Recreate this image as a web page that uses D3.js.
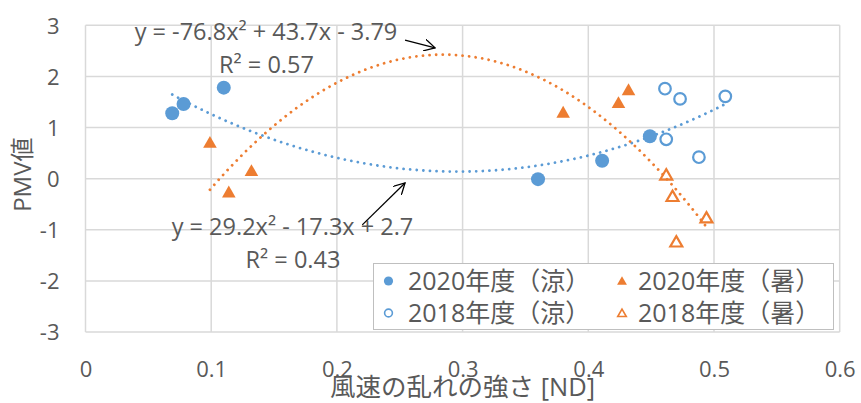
<!DOCTYPE html>
<html>
<head>
<meta charset="utf-8">
<script src="https://cdn.jsdelivr.net/npm/d3@7/dist/d3.min.js"></script>
<style>
  html, body { margin: 0; padding: 0; background: #fff; }
  svg { display: block; font-family: "Open Sans", "Noto Sans CJK JP", sans-serif; }
</style>
</head>
<body>
<svg id="chart" width="861" height="403"></svg>
<script>
// Wind turbulence intensity vs PMV, two seasons, two survey years
const cool2020X = [0.069, 0.078, 0.110, 0.360, 0.411, 0.449];
const cool2020Y = [1.28, 1.46, 1.78, -0.01, 0.35, 0.83];
const hot2020X  = [0.099, 0.114, 0.132, 0.380, 0.424, 0.432];
const hot2020Y  = [0.70, -0.27, 0.15, 1.29, 1.48, 1.73];
const cool2018X = [0.461, 0.473, 0.509, 0.462, 0.488];
const cool2018Y = [1.76, 1.56, 1.61, 0.77, 0.42];
const hot2018X  = [0.462, 0.467, 0.494, 0.470];
const hot2018Y  = [0.07, -0.35, -0.77, -1.24];

// quadratic trend coefficients [a, b, c] for y = a x^2 + b x + c
const coolFit = [29.2, -17.3, 2.7];
const hotFit  = [-76.8, 43.7, -3.79];
const coolR2 = "0.43";
const hotR2  = "0.57";

const xTicks = [0, 0.1, 0.2, 0.3, 0.4, 0.5, 0.6];
const yTicks = [-3, -2, -1, 0, 1, 2, 3];
const legendLabels = ["2020年度（涼）", "2020年度（暑）", "2018年度（涼）", "2018年度（暑）"];

const BLUE = "#5B9BD5", ORANGE = "#ED7D31", GRID = "#d9d9d9", TEXT = "#595959";

const W = 861, H = 403;
const m = { left: 85.5, right: 21.3, top: 25.3, bottom: 71 };
const svg = d3.select("#chart");

const x = d3.scaleLinear().domain([0, 0.6]).range([m.left, W - m.right]);
const y = d3.scaleLinear().domain([-3, 3]).range([H - m.bottom, m.top]);

// grid
const g = svg.append("g");
g.selectAll("line.h").data(yTicks).join("line")
  .attr("x1", x(0)).attr("x2", x(0.6))
  .attr("y1", d => y(d)).attr("y2", d => y(d))
  .attr("stroke", GRID).attr("stroke-width", 1.5);
g.selectAll("line.v").data(xTicks).join("line")
  .attr("y1", y(-3)).attr("y2", y(3))
  .attr("x1", d => x(d)).attr("x2", d => x(d))
  .attr("stroke", GRID).attr("stroke-width", 1.5);

// tick labels (axis lines hidden, gridlines act as frame)
const plain = d => String(d);
const xAxis = svg.append("g").attr("transform", `translate(0,${y(-3)})`)
  .call(d3.axisBottom(x).tickValues(xTicks).tickSize(0).tickPadding(0).tickFormat(plain));
xAxis.select(".domain").remove();
xAxis.selectAll("text").attr("dy", null).attr("y", 45)
  .attr("fill", TEXT).style("font-size", "22px").style("font-family", "'Open Sans'");

const yAxis = svg.append("g").attr("transform", `translate(${x(0)},0)`)
  .call(d3.axisLeft(y).tickValues(yTicks).tickSize(0).tickPadding(0).tickFormat(plain));
yAxis.select(".domain").remove();
yAxis.selectAll("text").attr("dy", "0.36em").attr("x", -26)
  .attr("fill", TEXT).style("font-size", "22px").style("font-family", "'Open Sans'");

// axis titles
svg.append("text").attr("x", (x(0) + x(0.6)) / 2).attr("y", 396)
  .attr("text-anchor", "middle").attr("fill", TEXT).style("font-size", "25.5px")
  .text("風速の乱れの強さ [ND]");
svg.append("text").attr("transform", `translate(31,${(y(3) + y(-3)) / 2 - 4}) rotate(-90)`)
  .attr("text-anchor", "middle").attr("fill", TEXT).style("font-size", "24px")
  .text("PMV値");

// trend curves
function curve(coef, xs) {
  const lo = d3.min(xs), hi = d3.max(xs);
  const pts = d3.range(0, 101).map(i => {
    const t = lo + (hi - lo) * i / 100;
    return [t, coef[0] * t * t + coef[1] * t + coef[2]];
  });
  return d3.line().x(d => x(d[0])).y(d => y(d[1]))(pts);
}
svg.append("path").attr("d", curve(coolFit, cool2020X.concat(cool2018X)))
  .attr("fill", "none").attr("stroke", BLUE).attr("stroke-width", 2.8)
  .attr("stroke-linecap", "round").attr("stroke-dasharray", "0.01 6.6");
svg.append("path").attr("d", curve(hotFit, hot2020X.concat(hot2018X)))
  .attr("fill", "none").attr("stroke", ORANGE).attr("stroke-width", 2.8)
  .attr("stroke-linecap", "round").attr("stroke-dasharray", "0.01 6.6");

// markers
const tri = d3.symbol().type(d3.symbolTriangle).size(80);
function pts(xs, ys) { return xs.map((v, i) => [v, ys[i]]); }

svg.append("g").selectAll("circle").data(pts(cool2020X, cool2020Y)).join("circle")
  .attr("cx", d => x(d[0])).attr("cy", d => y(d[1])).attr("r", 7).attr("fill", BLUE);
svg.append("g").selectAll("circle").data(pts(cool2018X, cool2018Y)).join("circle")
  .attr("cx", d => x(d[0])).attr("cy", d => y(d[1])).attr("r", 5.8)
  .attr("fill", "none").attr("stroke", BLUE).attr("stroke-width", 2.2);
svg.append("g").selectAll("path").data(pts(hot2020X, hot2020Y)).join("path")
  .attr("d", tri).attr("transform", d => `translate(${x(d[0])},${y(d[1]) + 1})`)
  .attr("fill", ORANGE);
svg.append("g").selectAll("path").data(pts(hot2018X, hot2018Y)).join("path")
  .attr("d", d3.symbol().type(d3.symbolTriangle).size(62)).attr("transform", d => `translate(${x(d[0])},${y(d[1]) + 1})`)
  .attr("fill", "none").attr("stroke", ORANGE).attr("stroke-width", 2.2);

// trend equations
function eq(coef) {
  const f = v => Math.abs(v).toString();
  const s = v => v < 0 ? " - " : " + ";
  return `y = ${coef[0] < 0 ? "-" : ""}${f(coef[0])}x²${s(coef[1])}${f(coef[1])}x${s(coef[2])}${f(coef[2])}`;
}
const eqStyle = sel => sel.attr("text-anchor", "middle").attr("fill", TEXT).style("font-size", "23.5px");
svg.append("text").attr("x", 266).attr("y", 40).call(eqStyle).text(eq(hotFit));
svg.append("text").attr("x", 266.5).attr("y", 72.5).call(eqStyle).text(`R² = ${hotR2}`);
svg.append("text").attr("x", 292.5).attr("y", 235).call(eqStyle).text(eq(coolFit));
svg.append("text").attr("x", 293).attr("y", 268).call(eqStyle).text(`R² = ${coolR2}`);

// pointer arrows from equations to curves
svg.append("defs").append("marker").attr("id", "arr")
  .attr("viewBox", "0 0 12 12").attr("refX", 11).attr("refY", 6)
  .attr("markerWidth", 12).attr("markerHeight", 12).attr("markerUnits", "userSpaceOnUse")
  .attr("orient", "auto")
  .append("path").attr("d", "M0,0 L11,6 L0,12").attr("fill", "none")
  .attr("stroke", "#000").attr("stroke-width", 1.3);
function arrow(x1, y1, x2, y2) {
  svg.append("line").attr("x1", x(x1)).attr("y1", y(y1)).attr("x2", x(x2)).attr("y2", y(y2))
    .attr("stroke", "#000").attr("stroke-width", 1.3).attr("marker-end", "url(#arr)");
}
arrow(0.2542, 2.71, 0.2781, 2.56);
arrow(0.2202, -0.905, 0.2542, -0.085);

// legend
const lg = svg.append("g");
lg.append("rect").attr("x", 373.5).attr("y", 263.5).attr("width", 460).attr("height", 66)
  .attr("fill", "#fff").attr("stroke", "#bfbfbf").attr("stroke-width", 1);
const lx = [388.5, 622], ly = [281, 313], tx = [408, 638];
lg.append("circle").attr("cx", lx[0]).attr("cy", ly[0]).attr("r", 4.6).attr("fill", BLUE);
lg.append("path").attr("d", d3.symbol().type(d3.symbolTriangle).size(42))
  .attr("transform", `translate(${lx[1]},${ly[0] + 1})`).attr("fill", ORANGE);
lg.append("circle").attr("cx", lx[0]).attr("cy", ly[1]).attr("r", 3.9)
  .attr("fill", "none").attr("stroke", BLUE).attr("stroke-width", 1.6);
lg.append("path").attr("d", d3.symbol().type(d3.symbolTriangle).size(32))
  .attr("transform", `translate(${lx[1]},${ly[1] + 1})`).attr("fill", "none")
  .attr("stroke", ORANGE).attr("stroke-width", 1.6);
legendLabels.forEach((t, i) => {
  lg.append("text").attr("x", tx[i % 2]).attr("y", ly[Math.floor(i / 2)] + 8.5)
    .attr("fill", TEXT).style("font-size", "25px").text(t);
});
</script>
</body>
</html>
